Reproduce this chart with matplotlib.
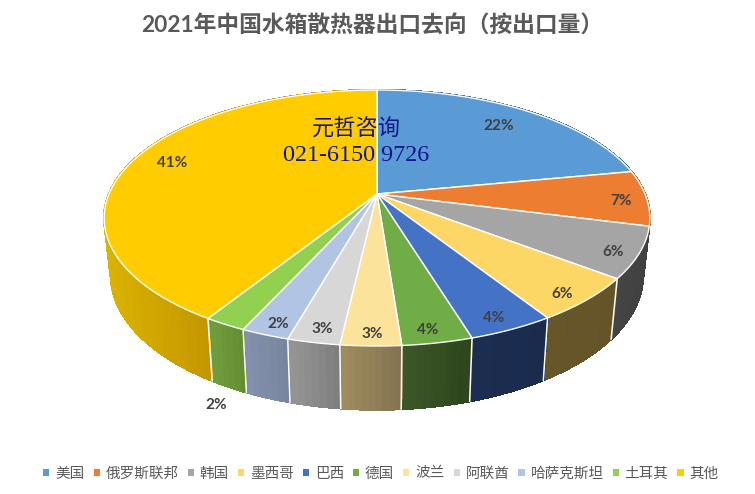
import numpy as np
import matplotlib
matplotlib.use('Agg')
import matplotlib.pyplot as plt
from matplotlib.collections import PolyCollection
from matplotlib.patches import Patch, Polygon
from matplotlib.colors import to_rgb

# data
title = '2021年中国水箱散热器出口去向（按出口量）'
countries = ['美国', '俄罗斯联邦', '韩国', '墨西哥', '巴西', '德国', '波兰', '阿联酋', '哈萨克斯坦', '土耳其', '其他']
shares = [22.0, 7.0, 6.4, 5.6, 4.3, 3.5, 3.0, 2.6, 2.4, 2.1, 41.1]

# styles
top_colors = ['#5B9BD5', '#ED7D31', '#A5A5A5', '#FCD766', '#4472C4', '#70AD47',
              '#FCE39B', '#D7D7D7', '#B1C4E3', '#92D050', '#FFCC00']
# wall colour at the left and the right end of each slice
wall_left = ['#3A6A96', '#A85A20', '#454545', '#675629', '#1B2D50', '#3C5828',
             '#A08C5F', '#969696', '#8491AC', '#709E3E', '#DAB200']
wall_right = ['#3A6A96', '#A85A20', '#404040', '#655428', '#1A2B4E', '#2D441C',
              '#827350', '#7D7D7D', '#76849E', '#648C32', '#C39600']
label_xy = [(499, 126), (621, 201), (613, 252), (562, 294), (494, 318), (428, 330),
            (372, 334), (322, 329), (278, 324), (216, 405), (172, 163)]
text_grey = '#595959'
cjk = 'Noto Sans CJK SC'

# pie projection, in pixels of the picture
cx, cy = 377, 194
a, b, k = 268, 123.5, 0.1875
shrink_x, stretch_y, drop = 0.975, 1.05, 56


def top_xy(ang):
    u, v = np.sin(ang), np.cos(ang)
    d = 1 + k * v
    return cx + a * u / d, cy - b * v / d


def bottom_xy(ang):
    x, y = top_xy(ang)
    return cx + (x - cx) * shrink_x, cy + (y - cy) * stretch_y + drop


fig = plt.figure(figsize=(7.55, 4.94), dpi=100)
ax = fig.add_axes([0, 0, 1, 1])
ax.set_xlim(0, 755)
ax.set_ylim(494, 0)
ax.axis('off')

edges = np.cumsum([0] + shares) / sum(shares) * 2 * np.pi

# side walls first, the top goes over them
quads, colors = [], []
for i in range(len(shares)):
    angs = np.linspace(edges[i], edges[i + 1], max(int(shares[i] * 3), 6) + 1)
    c_r, c_l = np.array(to_rgb(wall_right[i])), np.array(to_rgb(wall_left[i]))
    # gradient runs over the part of the wall that can be seen
    front = angs[np.cos(angs) < 0.1]
    if len(front) > 1:
        xs = top_xy(front)[0]
        x_min, x_max = xs.min(), xs.max()
    else:
        x_min, x_max = 0, 1
    for j in range(len(angs) - 1):
        a0, a1 = angs[j], angs[j + 1]
        quads.append([top_xy(a0), top_xy(a1), bottom_xy(a1), bottom_xy(a0)])
        t = np.clip((x_max - top_xy((a0 + a1) / 2)[0]) / (x_max - x_min), 0, 1)
        colors.append(c_r + (c_l - c_r) * t)
ax.add_collection(PolyCollection(quads, facecolors=colors, edgecolors=colors, linewidths=1.0,
                                 antialiaseds=False, zorder=1))

for e in edges[:-1]:
    if np.cos(e) < -0.3:
        x0, y0 = top_xy(e)
        x1, y1 = bottom_xy(e)
        ax.plot([x0, x1], [y0, y1], color='white', lw=1.1, zorder=2)

# top face
for i in range(len(shares)):
    angs = np.linspace(edges[i], edges[i + 1], 80)
    x, y = top_xy(angs)
    pts = [(cx, cy)] + list(zip(x, y))
    ax.add_patch(Polygon(pts, closed=True, facecolor=top_colors[i], edgecolor='white', lw=1.0, zorder=3))

# data labels
for s, (lx, ly) in zip(shares, label_xy):
    ax.text(lx, ly, f'{s:.0f}%', ha='center', va='center', fontsize=11, fontweight='bold',
            family='Lato', color='#404040', zorder=5)

# watermark
ax.text(356, 129, '元哲咨询', ha='center', va='center', fontsize=16, family=[cjk], color='#14148C', zorder=6)
ax.text(356, 155, '021-6150 9726', ha='center', va='center', fontsize=17.4, family=['Liberation Serif'],
        color='#14148C', zorder=6)

ax.text(372, 24.5, title, ha='center', va='center', fontsize=16.4, fontweight='bold',
        family=['Lato', cjk], color=text_grey)

handles = [Patch(facecolor=c, edgecolor='none') for c in top_colors]
leg = ax.legend(handles, countries, ncol=len(countries), loc='center', bbox_to_anchor=(381 / 755, 1 - 473.5 / 494),
                frameon=False, handlelength=0.42, handleheight=0.42, handletextpad=0.4,
                columnspacing=0.62, borderpad=0, borderaxespad=0,
                prop={'family': cjk, 'size': 10.5})
for t in leg.get_texts():
    t.set_color(text_grey)

fig.savefig('out.png', dpi=100)
